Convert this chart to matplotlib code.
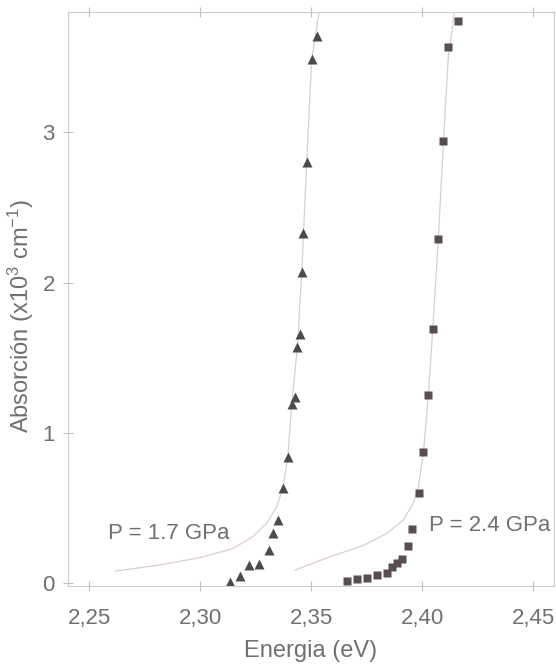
import matplotlib
matplotlib.use("Agg")
import matplotlib.pyplot as plt

plt.rcParams["font.family"] = ["Liberation Sans", "DejaVu Sans"]
plt.rcParams["mathtext.fontset"] = "custom"
plt.rcParams["mathtext.rm"] = "Liberation Sans"
plt.rcParams["mathtext.it"] = "Liberation Sans"

# datos (energia en eV, absorcion en 10^3 cm^-1)
e_17 = [2.3134, 2.3179, 2.3221, 2.3266, 2.3308, 2.3329, 2.3350, 2.3374, 2.3394,
        2.3412, 2.3427, 2.3437, 2.3449, 2.3457, 2.3464, 2.3479, 2.3502, 2.3524]
a_17 = [0.01, 0.05, 0.12, 0.13, 0.22, 0.33, 0.42, 0.63, 0.84,
        1.19, 1.24, 1.57, 1.66, 2.07, 2.33, 2.80, 3.49, 3.64]

e_24 = [2.3660, 2.3705, 2.3750, 2.3795, 2.3840, 2.3862, 2.3885, 2.3907, 2.3937,
        2.3955, 2.3986, 2.4005, 2.4027, 2.4047, 2.4072, 2.4095, 2.4117, 2.4162]
a_24 = [0.015, 0.025, 0.035, 0.053, 0.069, 0.109, 0.131, 0.16, 0.25,
        0.36, 0.60, 0.87, 1.25, 1.69, 2.29, 2.94, 3.57, 3.74]

# curvas de ajuste (puntos leidos)
fit_e_17 = [2.262, 2.2815, 2.300, 2.3147, 2.3238, 2.330, 2.3345, 2.3373, 2.3394,
            2.3412, 2.3437, 2.3457, 2.3479, 2.3502, 2.3535]
fit_a_17 = [0.08, 0.12, 0.17, 0.23, 0.31, 0.40, 0.51, 0.64, 0.84,
            1.19, 1.57, 2.07, 2.80, 3.49, 3.80]

fit_e_24 = [2.3427, 2.3584, 2.3734, 2.3840, 2.3914, 2.3959, 2.3982, 2.4005,
            2.4027, 2.4047, 2.4072, 2.4095, 2.4117, 2.4145]
fit_a_24 = [0.087, 0.175, 0.25, 0.33, 0.42, 0.53, 0.64, 0.87,
            1.25, 1.69, 2.29, 2.94, 3.50, 3.80]

xticks = [2.25, 2.30, 2.35, 2.40, 2.45]
xlabels = ["2,25", "2,30", "2,35", "2,40", "2,45"]
yticks = [0, 1, 2, 3]

txt = "#707070"
fig = plt.figure(figsize=(5.56, 6.66), dpi=100)
ax = fig.add_axes([0.1223, 0.12, 0.8741, 0.862])

ax.plot(fit_e_17, fit_a_17, color="#dccdd0", lw=0.9)
ax.plot(fit_e_24, fit_a_24, color="#dccdd0", lw=0.9)
ax.plot(e_17, a_17, "^", color="#4d4a4c", ms=6.5, mec="none")
ax.plot(e_24, a_24, "s", color="#574d53", ms=5.5, mec="none")

ax.text(2.2585, 0.33, "P = 1.7 GPa", color=txt, fontsize=16, va="center", ha="left")
ax.text(2.4031, 0.38, "P = 2.4 GPa", color=txt, fontsize=16, va="center", ha="left")

ax.set_xlim(2.2404, 2.4593)
ax.set_ylim(-0.02, 3.8)
ax.set_xticks(xticks)
ax.set_xticklabels(xlabels)
ax.set_yticks(yticks)
ax.tick_params(direction="inout", length=7, width=0.8, colors="#c0c0c0",
               labelcolor=txt, labelsize=16, top=True)
ax.tick_params(axis="x", pad=12)
ax.tick_params(axis="y", pad=6)
for s in ax.spines.values():
    s.set_color("#cccccc")
    s.set_linewidth(0.8)

ax.set_xlabel("Energia (eV)", color=txt, fontsize=17, labelpad=8)
ax.set_ylabel("Absorción (x10$^3$ cm$^{-1}$)", color=txt, fontsize=17)
ax.yaxis.set_label_coords(-0.066, 0.47)

fig.savefig("out.png", dpi=100)
